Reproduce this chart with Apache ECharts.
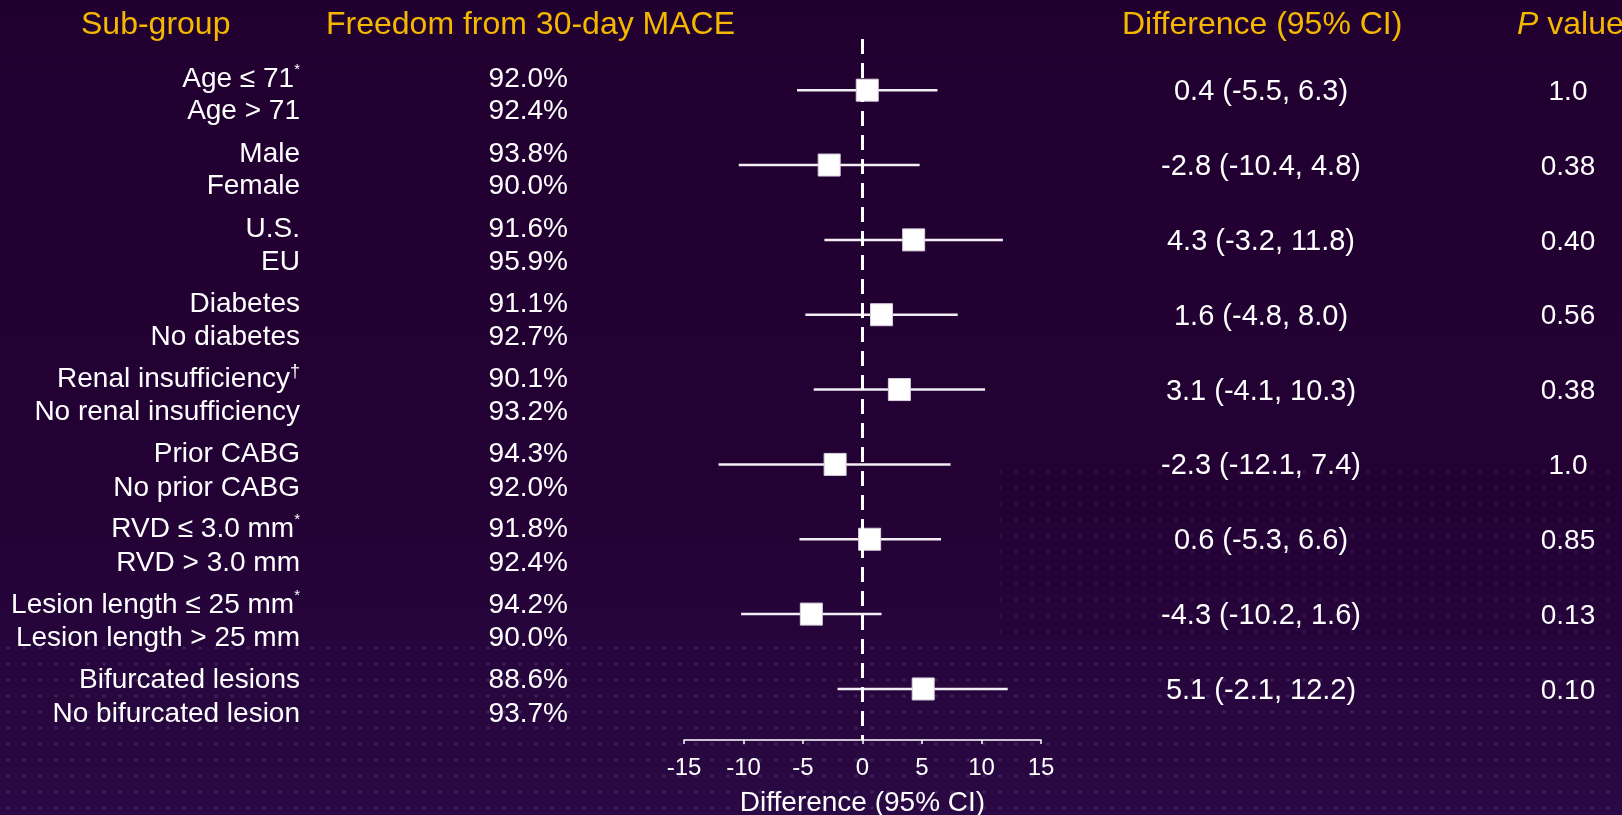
<!DOCTYPE html>
<html>
<head>
<meta charset="utf-8">
<script src="https://cdn.jsdelivr.net/npm/echarts@6/dist/echarts.min.js"></script>
<style>
html,body{margin:0;padding:0;width:100%;height:100%;overflow:hidden;background:#220031;}
#chart{position:absolute;left:0;top:0;width:1622px;height:815px;}
</style>
</head>
<body>
<div id="chart"></div>
<script>
// ---- data ----
const headers = ['Sub-group', 'Freedom from 30-day MACE', 'Difference (95% CI)', 'P value'];
const groupA = ['Age ≤ 71*', 'Male', 'U.S.', 'Diabetes', 'Renal insufficiency†', 'Prior CABG', 'RVD ≤ 3.0 mm*', 'Lesion length ≤ 25 mm*', 'Bifurcated lesions'];
const groupB = ['Age > 71', 'Female', 'EU', 'No diabetes', 'No renal insufficiency', 'No prior CABG', 'RVD > 3.0 mm', 'Lesion length > 25 mm', 'No bifurcated lesion'];
const freedomA = ['92.0%', '93.8%', '91.6%', '91.1%', '90.1%', '94.3%', '91.8%', '94.2%', '88.6%'];
const freedomB = ['92.4%', '90.0%', '95.9%', '92.7%', '93.2%', '92.0%', '92.4%', '90.0%', '93.7%'];
const diff = [0.4, -2.8, 4.3, 1.6, 3.1, -2.3, 0.6, -4.3, 5.1];
const ciLow = [-5.5, -10.4, -3.2, -4.8, -4.1, -12.1, -5.3, -10.2, -2.1];
const ciHigh = [6.3, 4.8, 11.8, 8.0, 10.3, 7.4, 6.6, 1.6, 12.2];
const pValues = ['1.0', '0.38', '0.40', '0.56', '0.38', '1.0', '0.85', '0.13', '0.10'];
const xTicks = [-15, -10, -5, 0, 5, 10, 15];
const xAxisTitle = 'Difference (95% CI)';

// ---- styling ----
const FONT = "'Liberation Sans', Arial, sans-serif";
const GOLD = '#F5B800';
const WHITE = '#FFFFFF';

function supRich(s) {
  return s.replace('*', '{ast|*}').replace('†', '{dag|†}');
}
const richLabel = {
  ast: { fontSize: 15, fontFamily: FONT, color: WHITE, verticalAlign: 'top', lineHeight: 34 },
  dag: { fontSize: 18, fontFamily: FONT, color: WHITE, verticalAlign: 'top', lineHeight: 34 }
};

function dotCanvas() {
  const c = document.createElement('canvas');
  c.width = 16; c.height = 16;
  const g = c.getContext('2d');
  g.fillStyle = 'rgba(200,160,240,0.18)';
  g.beginPath(); g.arc(8, 8, 1.8, 0, Math.PI * 2); g.fill();
  return c;
}
const dots = dotCanvas();

const rows = diff.map((d, i) => i);
const ciData = rows.map(i => [ciLow[i], ciHigh[i], i]);
const pointData = rows.map(i => [diff[i], i]);
const textData = rows.map(i => [0, i]);

const chart = echarts.init(document.getElementById('chart'), null, { width: 1622, height: 815 });
chart.setOption({
  backgroundColor: {
    type: 'linear', x: 0, y: 0, x2: 0, y2: 1,
    colorStops: [{ offset: 0, color: '#210030' }, { offset: 0.6, color: '#230134' }, { offset: 1, color: '#2a0944' }]
  },
  animation: false,
  textStyle: { fontFamily: FONT },
  graphic: [
    { type: 'rect', z: -5, silent: true, shape: { x: 0, y: 640, width: 1622, height: 175 }, style: { fill: { image: dots, repeat: 'repeat' }, opacity: 0.9 } },
    { type: 'rect', z: -5, silent: true, shape: { x: 1000, y: 470, width: 622, height: 170 }, style: { fill: { image: dots, repeat: 'repeat' }, opacity: 0.5 } },
    { type: 'text', left: 81, top: 9, style: { text: headers[0], fill: GOLD, font: '32px ' + FONT } },
    { type: 'text', left: 326, top: 9, style: { text: headers[1], fill: GOLD, font: '32px ' + FONT } },
    { type: 'text', left: 1122, top: 9, style: { text: headers[2], fill: GOLD, font: '32px ' + FONT } },
    { type: 'text', left: 1517, top: 9, style: {
        text: '{i|P} value', fill: GOLD, font: '32px ' + FONT,
        rich: { i: { fontStyle: 'italic', fontSize: 32, fontFamily: FONT, fill: GOLD } } } }
  ],
  grid: { left: 684, right: 581, top: 39, bottom: 75, containLabel: false, outerBoundsMode: 'none' },
  xAxis: {
    type: 'value', min: -15, max: 15, interval: 5,
    name: xAxisTitle, nameLocation: 'middle', nameGap: 49,
    nameTextStyle: { color: WHITE, fontSize: 28, fontFamily: FONT },
    axisLine: { show: true, onZero: false, lineStyle: { color: WHITE, width: 1.5 } },
    axisTick: { show: true, length: 4, lineStyle: { color: WHITE, width: 1.5 } },
    axisLabel: { color: WHITE, fontSize: 24, fontFamily: FONT, margin: 16,
      formatter: v => xTicks.includes(v) ? String(v) : '' },
    splitLine: { show: false }
  },
  yAxis: {
    type: 'value', min: -0.684, max: 8.682, inverse: true, show: false
  },
  series: [
    {
      type: 'line', data: [], z: 1, silent: true,
      markLine: {
        silent: true, symbol: ['none', 'none'], label: { show: false },
        lineStyle: { color: WHITE, width: 3, type: [15, 9] },
        data: [{ xAxis: 0 }]
      }
    },
    {
      type: 'custom', z: 2, clip: false, silent: true,
      data: ciData,
      encode: { x: [0, 1], y: 2 },
      renderItem: function (params, api) {
        const a = api.coord([api.value(0), api.value(2)]);
        const b = api.coord([api.value(1), api.value(2)]);
        return { type: 'line', shape: { x1: a[0], y1: a[1], x2: b[0], y2: b[1] },
          style: { stroke: '#F2EEF4', lineWidth: 2.5 } };
      }
    },
    {
      type: 'scatter', z: 3, silent: true,
      symbol: 'rect', symbolSize: 22,
      itemStyle: { color: WHITE, borderColor: '#D8D0DE', borderWidth: 1, opacity: 1 },
      data: pointData
    },
    {
      type: 'custom', z: 4, clip: false, silent: true,
      data: textData,
      encode: { x: 0, y: 1 },
      renderItem: function (params, api) {
        const i = api.value(1);
        const y = api.coord([0, i])[1];
        const base = { fill: WHITE, font: '28px ' + FONT, textVerticalAlign: 'middle' };
        const diffText = diff[i].toFixed(1) + ' (' + ciLow[i].toFixed(1) + ', ' + ciHigh[i].toFixed(1) + ')';
        const yA = y - 11 + 0.25 * i;
        const yB = y + 21 + 0.5 * i;
        return {
          type: 'group',
          children: [
            { type: 'text', style: Object.assign({}, base, { x: 300, y: yA, text: supRich(groupA[i]), textAlign: 'right', rich: richLabel, lineHeight: 34 }) },
            { type: 'text', style: Object.assign({}, base, { x: 300, y: yB, text: groupB[i], textAlign: 'right' }) },
            { type: 'text', style: Object.assign({}, base, { x: 568, y: yA, text: freedomA[i], textAlign: 'right' }) },
            { type: 'text', style: Object.assign({}, base, { x: 568, y: yB, text: freedomB[i], textAlign: 'right' }) },
            { type: 'text', style: Object.assign({}, base, { x: 1261, y: y + 2, text: diffText, textAlign: 'center', font: '29px ' + FONT }) },
            { type: 'text', style: Object.assign({}, base, { x: 1568, y: y + 2, text: pValues[i], textAlign: 'center' }) }
          ]
        };
      }
    }
  ]
});
</script>
</body>
</html>
